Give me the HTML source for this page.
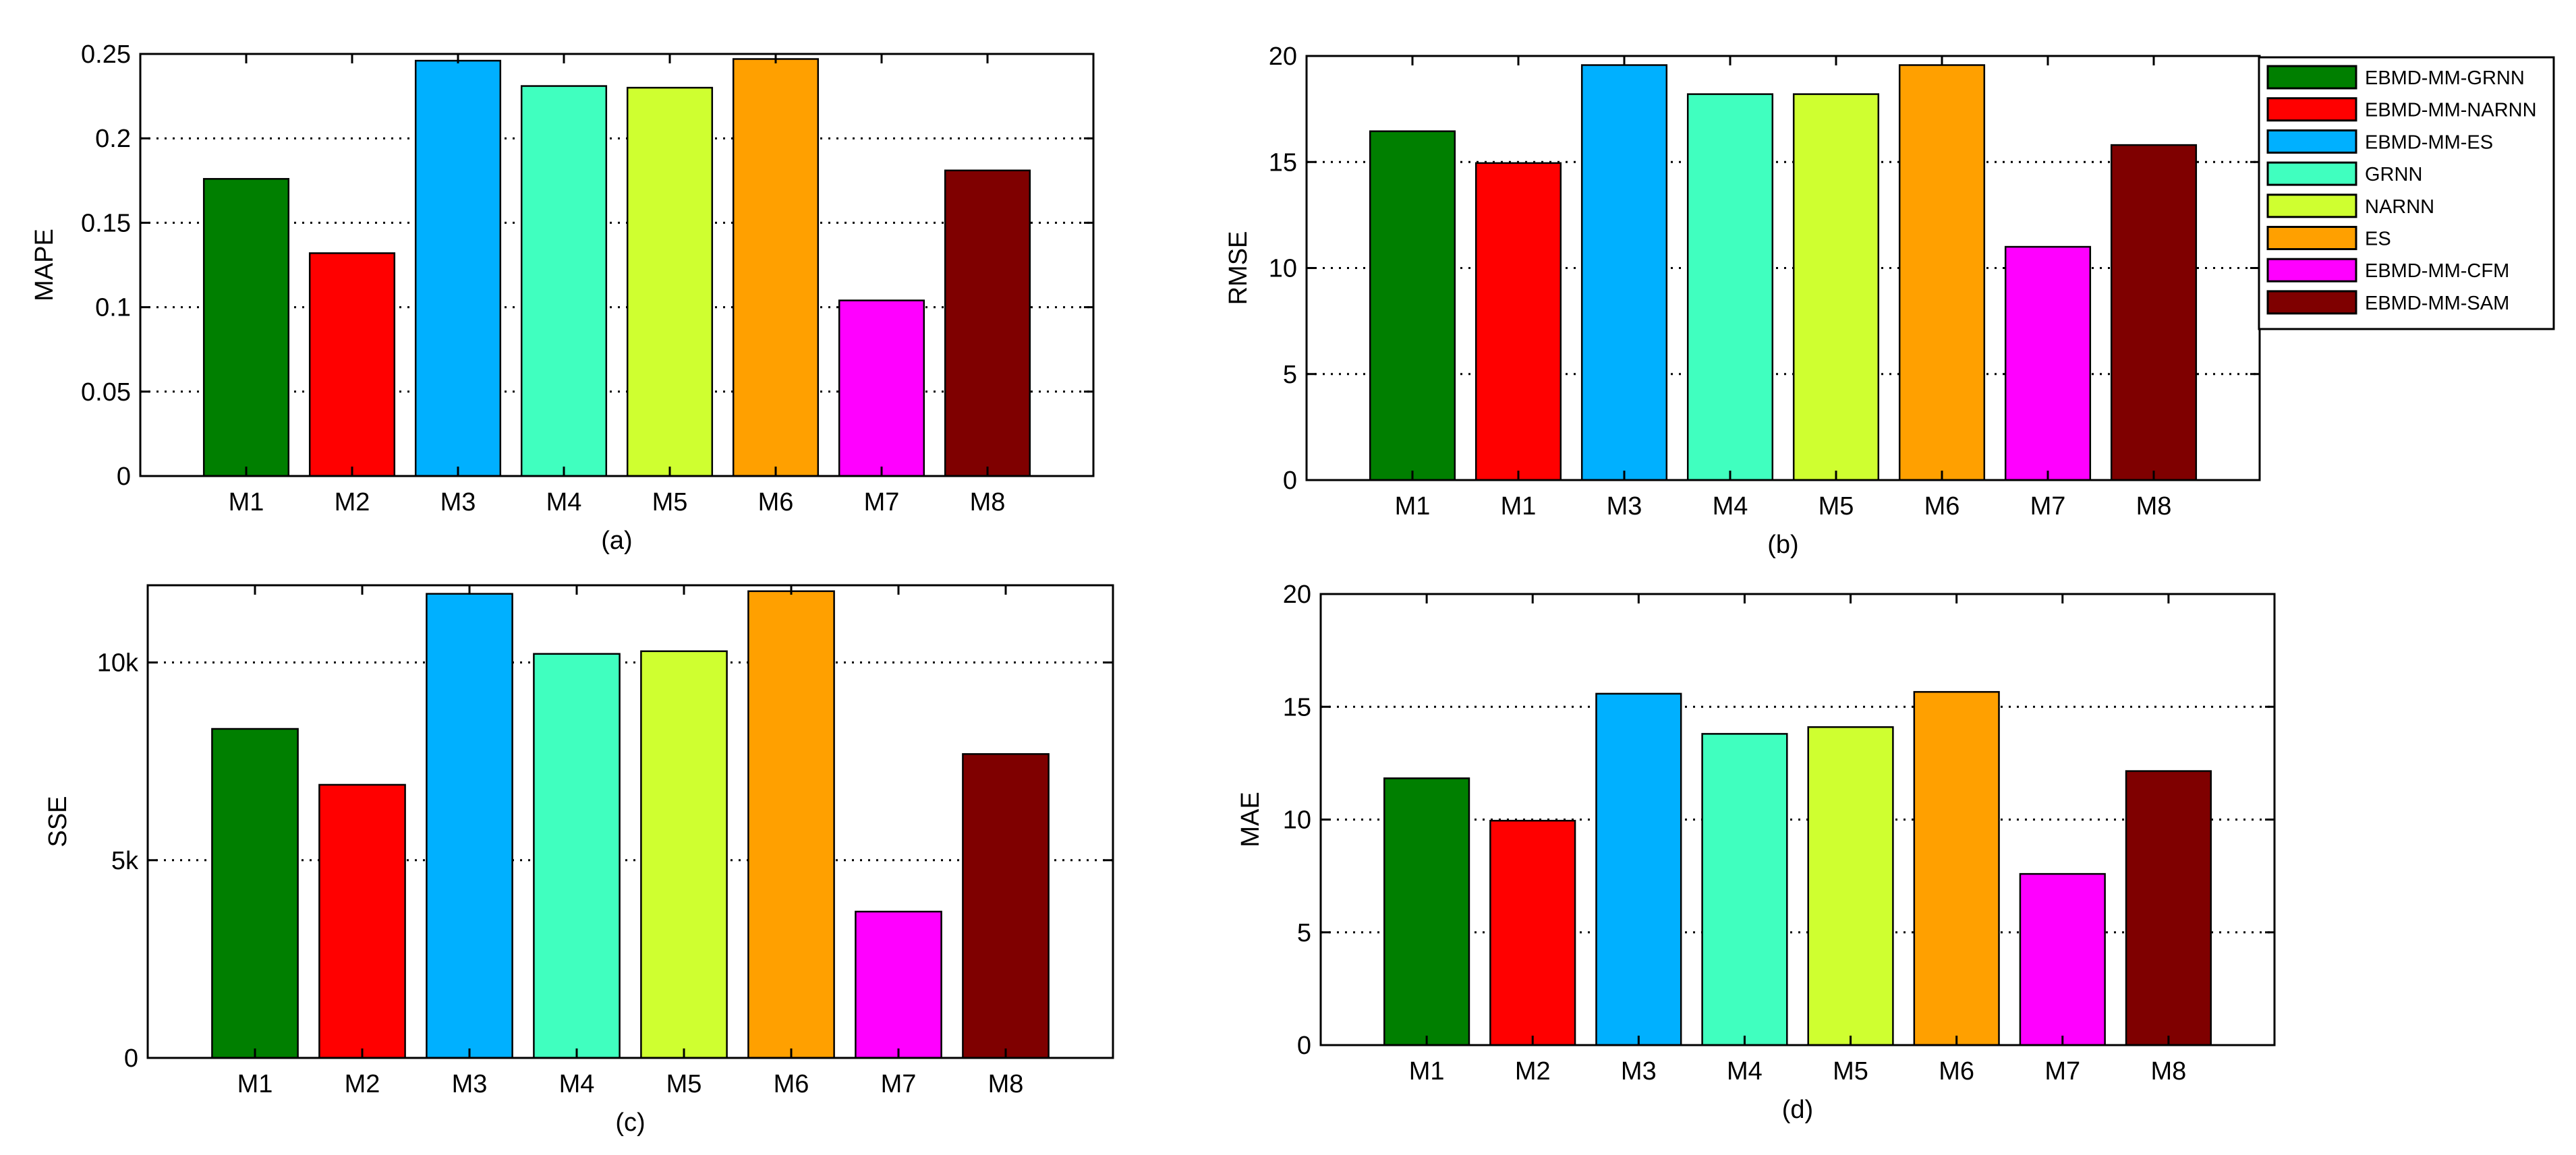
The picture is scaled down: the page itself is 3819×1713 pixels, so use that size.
<!DOCTYPE html>
<html><head><meta charset="utf-8"><style>
html,body{margin:0;padding:0;background:#fff;}
svg{display:block;font-family:"Liberation Sans",Arial,sans-serif;}
</style></head><body>
<svg id="fig" width="3819" height="1713" viewBox="0 0 3819 1713" xmlns="http://www.w3.org/2000/svg"></svg>
<script>
const categoriesA = ["M1","M2","M3","M4","M5","M6","M7","M8"];
const categoriesB = ["M1","M1","M3","M4","M5","M6","M7","M8"];
const mapeValues = [0.176,0.132,0.246,0.231,0.230,0.247,0.104,0.181];
const rmseValues = [16.45,14.95,19.57,18.2,18.2,19.57,11.0,15.8];
const sseValues = [8321,6907,11737,10218,10285,11803,3700,7685];
const maeValues = [11.83,9.95,15.58,13.8,14.1,15.66,7.59,12.15];
const mapeTicks = [0,0.05,0.1,0.15,0.2,0.25];
const mapeTickLabels = ["0","0.05","0.1","0.15","0.2","0.25"];
const rmseTicks = [0,5,10,15,20];
const rmseTickLabels = ["0","5","10","15","20"];
const sseTicks = [0,5000,10000];
const sseTickLabels = ["0","5k","10k"];
const maeTicks = [0,5,10,15,20];
const maeTickLabels = ["0","5","10","15","20"];
const seriesNames = ["EBMD-MM-GRNN","EBMD-MM-NARNN","EBMD-MM-ES","GRNN","NARNN","ES","EBMD-MM-CFM","EBMD-MM-SAM"];
const colors = ["#007f00","#ff0000","#00b0ff","#40ffbf","#cfff30","#ffa000","#ff00ff","#7f0000"];

const NS="http://www.w3.org/2000/svg";
const fig=document.getElementById('fig');
function mk(tag,parent,attrs){const e=document.createElementNS(NS,tag);for(const k in attrs)e.setAttribute(k,attrs[k]);parent.appendChild(e);return e;}

function panel(id,L,R,T,B,ymax,values,cats,ticks,tickLabels,ylabel,ylabelX,sub){
  const g=mk('g',fig,{});
  
  
  const xs=v=>L+(R-L)*v/9;
  const ys=v=>B-(B-T)*v/ymax;
  ticks.forEach((t,i)=>{
    if(t===0||t===ymax)return;
    const gl=mk('line',g,{x1:L,x2:R,y1:ys(t),y2:ys(t),stroke:'#000','stroke-width':3,'stroke-dasharray':'3 9'});
    
    
  });
  values.forEach((v,i)=>{
    const c=i+1;const w=(R-L)/9*0.8;
    const r=mk('rect',g,{x:xs(c)-w/2,y:ys(v),width:w,height:B-ys(v),fill:colors[i],stroke:'#000','stroke-width':2.5});
    
    
  });
  const box=mk('rect',g,{x:L,y:T,width:R-L,height:B-T,fill:'none',stroke:'#000','stroke-width':3});
  
  
  ticks.forEach((t,i)=>{
    const y=ys(t);
    mk('line',g,{x1:L,x2:L+14,y1:y,y2:y,stroke:'#000','stroke-width':3});
    mk('line',g,{x1:R-14,x2:R,y1:y,y2:y,stroke:'#000','stroke-width':3});
    const tx=mk('text',g,{x:L-14,y:y+13,'font-size':38,'text-anchor':'end',fill:'#000'});
    tx.textContent=tickLabels[i];
    
    
  });
  cats.forEach((c,i)=>{
    const x=xs(i+1);
    mk('line',g,{x1:x,x2:x,y1:B,y2:B-14,stroke:'#000','stroke-width':3});
    mk('line',g,{x1:x,x2:x,y1:T,y2:T+14,stroke:'#000','stroke-width':3});
    const tx=mk('text',g,{x:x,y:B+51,'font-size':38,'text-anchor':'middle',fill:'#000'});
    tx.textContent=c;
    
    
  });
  const yl=mk('text',g,{x:0,y:0,'font-size':38,'text-anchor':'middle',fill:'#000',transform:`translate(${ylabelX},${(T+B)/2}) rotate(-90)`});
  yl.textContent=ylabel;
  
  
  const st=mk('text',g,{x:(L+R)/2,y:B+108,'font-size':38,'text-anchor':'middle',fill:'#000'});
  st.textContent=sub;
  
  
}

panel('mape',208,1621,80,706,0.25,mapeValues,categoriesA,mapeTicks,mapeTickLabels,'MAPE',78,'(a)');
panel('rmse',1937,3350,83,712,20,rmseValues,categoriesB,rmseTicks,rmseTickLabels,'RMSE',1848,'(b)');
panel('sse',219,1650,868,1569,11953,sseValues,categoriesA,sseTicks,sseTickLabels,'SSE',98,'(c)');
panel('mae',1958,3372,881,1550,20,maeValues,categoriesA,maeTicks,maeTickLabels,'MAE',1866,'(d)');

const lg=mk('g',fig,{});


const lb=mk('rect',lg,{x:3349,y:85,width:437,height:403,fill:'#fff',stroke:'#000','stroke-width':3});


seriesNames.forEach((n,i)=>{
  const y=98+i*47.7;
  const e=mk('g',lg,{});
  
  
  mk('rect',e,{x:3362,y:y,width:131,height:33,fill:colors[i],stroke:'#000','stroke-width':3});
  const t=mk('text',e,{x:3506,y:y+27,'font-size':29,fill:'#000'});
  t.textContent=n;
});
</script>
</body></html>
